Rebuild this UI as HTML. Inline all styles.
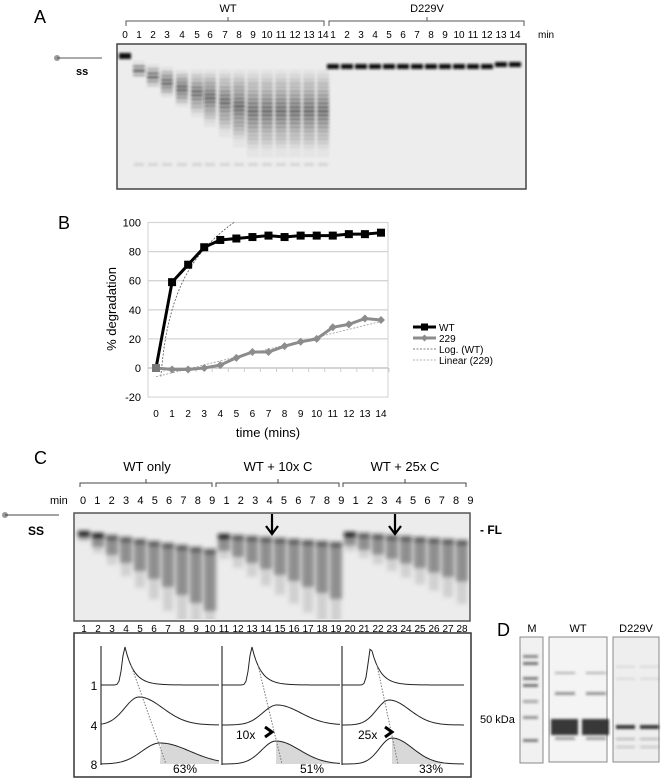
<!DOCTYPE html>
<html><head><meta charset="utf-8">
<style>
body{margin:0;background:#fff;}
svg{display:block;font-family:"Liberation Sans",Arial,sans-serif;}
</style></head>
<body>
<svg id="fig" width="661" height="783" viewBox="0 0 661 783" xmlns="http://www.w3.org/2000/svg">
<defs>
<filter id="blur1" x="-20%" y="-20%" width="140%" height="140%"><feGaussianBlur stdDeviation="1.2"/></filter>
<filter id="blur2" x="-20%" y="-20%" width="140%" height="140%"><feGaussianBlur stdDeviation="2"/></filter>
<clipPath id="clipC"><rect x="75" y="514" width="394" height="105"/></clipPath>
</defs>

<!-- Panel A -->
<g>
<text x="34" y="23" font-size="18">A</text>
<text x="228" y="12" font-size="11" text-anchor="middle">WT</text>
<text x="427" y="12" font-size="11" text-anchor="middle">D229V</text>
<path d="M126,26 V21 H324 V26 M228,21 V17" fill="none" stroke="#555" stroke-width="1"/>
<path d="M329,26 V21 H524 V26 M427,21 V17" fill="none" stroke="#555" stroke-width="1"/>
<g id="laneLabelsA" font-size="10" text-anchor="middle"></g>
<text x="538" y="38" font-size="10">min</text>
<circle cx="57" cy="58" r="3" fill="#999"/>
<line x1="57" y1="58" x2="102" y2="58" stroke="#555" stroke-width="1"/>
<text x="76" y="75" font-size="11" font-weight="bold">ss</text>
<rect x="117" y="44" width="409" height="145" fill="#ededed" stroke="#444" stroke-width="1.5"/>
<g id="gelA" filter="url(#blur1)"></g>
</g>

<!-- Panel B chart -->
<g>
<text x="58" y="229" font-size="18">B</text>
<g id="chartB"></g>
</g>

<!-- Panel C -->
<g>
<text x="34" y="464" font-size="18">C</text>
<text x="147" y="471" font-size="13" text-anchor="middle">WT only</text>
<text x="278" y="471" font-size="13" text-anchor="middle">WT + 10x C</text>
<text x="405" y="471" font-size="13" text-anchor="middle">WT + 25x C</text>
<path d="M80,487 V483 H212 V487 M146,483 V479" fill="none" stroke="#444"/>
<path d="M216,487 V483 H339 V487 M278,483 V479" fill="none" stroke="#444"/>
<path d="M343,487 V483 H466 V487 M405,483 V479" fill="none" stroke="#444"/>
<text x="50" y="504" font-size="11">min</text>
<g id="laneLabelsC" font-size="11" text-anchor="middle"></g>
<circle cx="5" cy="515" r="3" fill="#999"/>
<line x1="5" y1="515" x2="59" y2="515" stroke="#444"/>
<text x="28" y="535" font-size="12" font-weight="bold">SS</text>
<rect x="74" y="513" width="396" height="108" fill="#ececec" stroke="#555" stroke-width="1.5"/>
<g clip-path="url(#clipC)"><g id="gelC" filter="url(#blur2)"></g></g>
<path d="M272,514 V533 M266,526 L272,534 L278,526" fill="none" stroke="#000" stroke-width="2.2"/>
<path d="M395,514 V533 M389,526 L395,534 L401,526" fill="none" stroke="#000" stroke-width="2.2"/>
<text x="480" y="534" font-size="12" font-weight="bold">- FL</text>
<g id="laneNumsC" font-size="10" text-anchor="middle"></g>
<rect x="74" y="633" width="397" height="144" fill="#fff" stroke="#333" stroke-width="1.5"/>
<g id="profiles"></g>
</g>

<!-- Panel D -->
<g>
<text x="497" y="636" font-size="18">D</text>
<text x="532" y="632" font-size="11" text-anchor="middle">M</text>
<text x="578" y="632" font-size="11" text-anchor="middle">WT</text>
<text x="636" y="632" font-size="11" text-anchor="middle">D229V</text>
<text x="480" y="723" font-size="11">50 kDa</text>
<rect x="520" y="637" width="23" height="126" fill="#f1f1f1" stroke="#888"/>
<rect x="549" y="637" width="58" height="125" fill="#f4f4f4" stroke="#888"/>
<rect x="613" y="637" width="46" height="125" fill="#eeeeee" stroke="#888"/>
<g id="gelD" filter="url(#blur1)"></g>
</g>
</svg>

<script>
// ---------- Chart B data ----------
const timePoints = [0,1,2,3,4,5,6,7,8,9,10,11,12,13,14];
const wtValues = [0,59,71,83,88,89,90,91,90,91,91,91,92,92,93];
const d229Values = [0,-1,-1,0,2,7,11,11,15,18,20,28,30,34,33];
const yTicks = [-20,0,20,40,60,80,100];
const legendLabels = ["WT","229","Log. (WT)","Linear (229)"];

const NS = "http://www.w3.org/2000/svg";
function mk(tag, attrs, parent){
  const e = document.createElementNS(NS, tag);
  for (const k in attrs) e.setAttribute(k, attrs[k]);
  parent.appendChild(e);
  return e;
}

const X0 = 156, XSTEP = 16.07;
function xs(t){ return X0 + t*XSTEP; }
function ys(v){ return 368 - v*1.455; }

const chart = document.getElementById('chartB');
let fr = mk('rect',{x:148,y:ys(100),width:240,height:ys(-20)-ys(100),fill:'none',stroke:'#d0d0d0'},chart);


yTicks.forEach(v=>{
  if(v!==-20){
    const g = mk('line',{x1:148,x2:388,y1:ys(v),y2:ys(v),stroke: v===0?'#bbb':'#d4d4d4','stroke-width':1.3},chart);
    
    
  }
  const t = mk('text',{x:141,y:ys(v)+4,'font-size':11,'text-anchor':'end'},chart);
  t.textContent = v;
  
  
});
timePoints.forEach(t=>{
  const tk = mk('line',{x1:xs(t)+8,x2:xs(t)+8,y1:ys(0),y2:ys(0)+4,stroke:'#ccc'},chart);
  
  
  const lb = mk('text',{x:xs(t),y:417,'font-size':10,'text-anchor':'middle'},chart);
  lb.textContent = t;
  
  
});
let xt = mk('text',{x:268,y:437,'font-size':13,'text-anchor':'middle'},chart);
xt.textContent='time (mins)';


let yt = mk('text',{x:0,y:0,'font-size':13,'text-anchor':'middle',transform:'translate(116,309) rotate(-90)'},chart);
yt.textContent='% degradation';



let logPts=[];
for(let t=0.3;t<=4.9;t+=0.1){ logPts.push(xs(t).toFixed(1)+','+ys(38*Math.log(t)+40).toFixed(1)); }
let lg = mk('polyline',{points:logPts.join(' '),fill:'none',stroke:'#555','stroke-width':0.8,'stroke-dasharray':'2,1.5'},chart);


let ln = mk('line',{x1:xs(0),y1:ys(-6),x2:xs(14),y2:ys(32),stroke:'#999','stroke-width':0.8,'stroke-dasharray':'2,1.5'},chart);



let p229 = mk('polyline',{points:timePoints.map((t,i)=>xs(t)+','+ys(d229Values[i])).join(' '),fill:'none',stroke:'#8c8c8c','stroke-width':3},chart);


timePoints.forEach((t,i)=>{
  const x=xs(t), y=ys(d229Values[i]);
  const d = mk('polygon',{points:`${x},${y-4} ${x+4},${y} ${x},${y+4} ${x-4},${y}`,fill:'#8c8c8c'},chart);
  
  
});
let pwt = mk('polyline',{points:timePoints.map((t,i)=>xs(t)+','+ys(wtValues[i])).join(' '),fill:'none',stroke:'#000','stroke-width':3},chart);


timePoints.forEach((t,i)=>{
  const s = mk('rect',{x:xs(t)-4,y:ys(wtValues[i])-4,width:8,height:8,fill:'#000'},chart);
  
  
});
let z = mk('rect',{x:xs(0)-4,y:ys(0)-4,width:8,height:8,fill:'#777'},chart);



const legY=[327,338,349,360];
legendLabels.forEach((lab,i)=>{
  const y=legY[i];
  let attrs = i===0?{stroke:'#000','stroke-width':3}: i===1?{stroke:'#8c8c8c','stroke-width':3}: i===2?{stroke:'#555','stroke-width':0.8,'stroke-dasharray':'2,1.5'}:{stroke:'#999','stroke-width':0.8,'stroke-dasharray':'2,1.5'};
  attrs.x1=413; attrs.x2=436; attrs.y1=y; attrs.y2=y;
  const l = mk('line',attrs,chart);
  
  
  if(i===0){ const m=mk('rect',{x:421,y:y-3.5,width:7,height:7,fill:'#000'},chart);   }
  if(i===1){ const m=mk('polygon',{points:`424.5,${y-3.5} 428,${y} 424.5,${y+3.5} 421,${y}`,fill:'#8c8c8c'},chart);   }
  const t = mk('text',{x:439,y:y+4,'font-size':10},chart);
  t.textContent=lab;
  
  
});

// ---------- Gel A ----------
const laneA = document.getElementById('laneLabelsA');
const gelA = document.getElementById('gelA');
const wtLaneX = [125,139,153,167,182,197,210,225,239,253,267,281,295,309,323];
const dLaneX = [333,347,361,375,389,403,417,431,445,459,473,487,501,515];
wtLaneX.forEach((x,i)=>{
  const t=mk('text',{x:x,y:38},laneA); t.textContent=i;
   
  if(i===0){ const b=mk('rect',{x:x-6,y:53,width:12,height:6,fill:'#111'},gelA);   return; }
  const top = 58 + Math.min(i,4)*3;
  const bottom = Math.min(158, 68 + i*10);
  const n = Math.round((bottom-top)/4);
  for(let k=0;k<n;k++){
    const y = top + k*(bottom-top)/n;
    const center = top + (bottom-top)*(i<7?0.45:0.45);
    const op = Math.max(0.06, 0.8 - Math.abs(y-center)/((bottom-top)*0.6));
    const b=mk('rect',{x:x-6,y:y,width:12,height:2.6,fill:'#111','fill-opacity':op.toFixed(2)},gelA);
     
  }
  const f=mk('rect',{x:x-5,y:163,width:10,height:3,fill:'#999','fill-opacity':0.3},gelA);
   
});
dLaneX.forEach((x,i)=>{
  const t=mk('text',{x:x,y:38},laneA); t.textContent=i+1;
   
  const b=mk('rect',{x:x-6,y:64-(i>11?2:0),width:12,height:5,fill:'#111'},gelA);
   
});

// ---------- Gel C ----------
const laneCtop = document.getElementById('laneLabelsC');
const laneNums = document.getElementById('laneNumsC');
const gelC = document.getElementById('gelC');
const topLabels = [0,1,2,3,4,5,6,7,8,9,1,2,3,4,5,6,7,8,9,1,2,3,4,5,6,7,8,9];
topLabels.forEach((v,i)=>{
  const x = 83 + i*14.35;
  const t=mk('text',{x:x,y:504},laneCtop); t.textContent=v;
   
});
for(let i=0;i<28;i++){
  const x = 84 + i*14.0;
  const t=mk('text',{x:x,y:632},laneNums); t.textContent=i+1;
   
  const grp = i<10?0:(i<19?1:2);
  const m = grp===0?i:(grp===1?i-9:i-18);
  const head = 531 + (grp===0?m*2.0:(grp===1?m*1.0:m*1.0)) + (grp===1?2:0);
  const len = grp===0? 4+m*6 : (grp===1? 8+m*5 : 6+m*3.5);
  const hb=mk('rect',{x:x-6,y:head,width:12,height:5,fill:'#111','fill-opacity':(m<2?0.95:0.65)},gelC);
   
  const sm=mk('rect',{x:x-6,y:head+4,width:12,height:len,fill:'#333','fill-opacity':0.5},gelC);
   
  const tail=mk('rect',{x:x-5,y:head+4+len,width:10,height:len*0.6,fill:'#666','fill-opacity':0.2},gelC);
   
}

// ---------- Profiles ----------
const prof = document.getElementById('profiles');
const panelX = [101,222,342];
const rowBase = [685,725,764];
const rowLabels = ["1","4","8"];
const pctLabels = ["63%","51%","33%"];
// [peak offset, peak height, width] per panel per row
const peaks = [
  [[24,38,5],[38,28,30],[59,21,38]],
  [[30,38,5],[55,20,30],[54,23,30]],
  [[29,38,5],[47,25,26],[50,26,26]]
];
panelX.forEach((px,p)=>{
  const vl=mk('line',{x1:px,x2:px,y1:646,y2:765,stroke:'#333','stroke-width':1.2},prof);
   
  const w = p===2?123:118;
  rowBase.forEach((base,r)=>{
    const [off,h,wd]=peaks[p][r];
    const arr=[];
    for(let dx=0;dx<=w;dx+=2){
      let v = h*Math.exp(-Math.pow((dx-off)/wd, 2)*(dx<off?(r===0?1.6:2.2):0.8));
      if(r===0 && dx>off) v = h*Math.exp(-(dx-off)/9);
      arr.push([px+dx, base - v]);
    }
    if(r===2){
      const pk = px+off;
      const area = arr.filter(a=>a[0]>=pk);
      const d = 'M'+pk+','+base+' '+area.map(a=>'L'+a[0]+','+a[1]).join(' ')+' L'+(px+w)+','+base+' Z';
      const sh=mk('path',{d:d,fill:'#d8d8d8'},prof);
       
    }
    const pl=mk('polyline',{points:arr.map(a=>a.join(',')).join(' '),fill:'none',stroke:'#222','stroke-width':1},prof);
     
  });
  const dl=mk('line',{x1:px+peaks[p][0][0]+6,y1:rowBase[0]-peaks[p][0][1]+18,x2:px+peaks[p][2][0]+6,y2:rowBase[2],stroke:'#777','stroke-dasharray':'1.5,1.5'},prof);
   
  const pt=mk('text',{x:px+peaks[p][0][0]+48,y:773,'font-size':12},prof);
  pt.textContent=pctLabels[p];
   
});
rowLabels.forEach((l,r)=>{
  const t=mk('text',{x:94,y:rowBase[r]+5,'font-size':12,'text-anchor':'middle'},prof);
  t.textContent=l;
   
});
[["10x",236,265],["25x",358,385]].forEach(a=>{
  const t=mk('text',{x:a[1],y:739,'font-size':12},prof); t.textContent=a[0];
   
  const ar=mk('path',{d:`M${a[2]},727 L${a[2]+7},732 L${a[2]},737`,fill:'none',stroke:'#000','stroke-width':3},prof);
   
});

// ---------- Gel D ----------
const gelD = document.getElementById('gelD');
function band(x,y,w,h,op,name){
  const b=mk('rect',{x:x,y:y,width:w,height:h,fill:'#222','fill-opacity':op},gelD);
   
}
[[655,0.5],[662,0.6],[677,0.55],[684,0.6],[700,0.35],[716,0.45],[739,0.55]].forEach(b=>band(523,b[0],15,3,b[1],'marker-band'));
[551,582].forEach(x=>{
  band(x+4,672,20,2,0.3,'wt-band'); band(x+4,692,20,3,0.45,'wt-band');
  band(x,719,27,16,0.9,'wt-main-band'); band(x+4,737,20,3,0.4,'wt-band');
});
[616,640].forEach(x=>{
  band(x,725,19,4,0.9,'d229v-band'); band(x,666,19,1.5,0.12,'d229v-band');
  band(x,678,19,1.5,0.12,'d229v-band'); band(x,738,19,2,0.25,'d229v-band'); band(x,746,19,2,0.2,'d229v-band');
});
</script>
</body></html>
